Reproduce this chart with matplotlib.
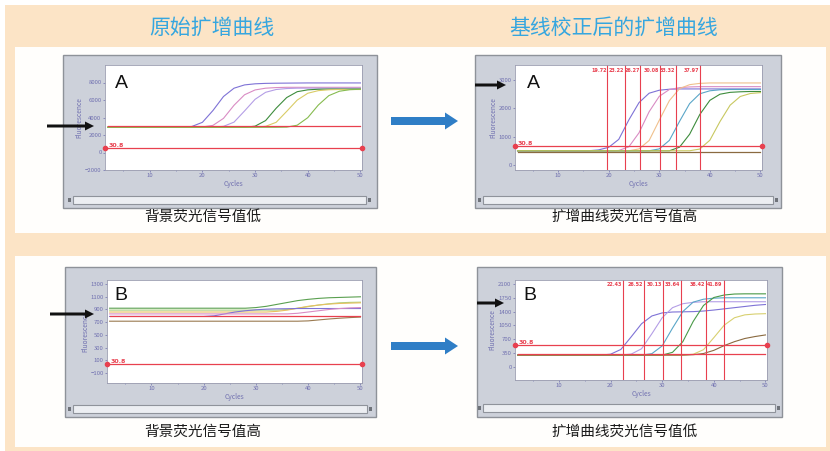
import matplotlib.pyplot as plt
from matplotlib.patches import Rectangle, FancyArrow

W, H = 830, 451

# 横轴：循环数（每 2 个循环取一个点）
CYCLES = list(range(2, 51, 2))

# ---- A 组：原始扩增曲线（背景荧光低） ----
RAW_A = {
    '#7e72d6': [2900, 2900, 2900, 2900, 2900, 2900, 2900, 2900, 2975, 3450, 4800, 6400, 7350,
                7725, 7850, 7900, 7920, 7930, 7940, 7950, 7950, 7950, 7950, 7950, 7950],
    '#d98cc4': [2900, 2900, 2900, 2900, 2900, 2900, 2900, 2900, 2900, 2920, 3100, 3900, 5400,
                6600, 7150, 7350, 7420, 7450, 7450, 7450, 7450, 7450, 7450, 7450, 7450],
    '#b49ee6': [2900, 2900, 2900, 2900, 2900, 2900, 2900, 2900, 2900, 2900, 2900, 2990, 3470,
                4750, 6080, 6880, 7200, 7310, 7350, 7350, 7350, 7350, 7350, 7350, 7350],
    '#3d8c3c': [2880, 2880, 2880, 2880, 2880, 2880, 2880, 2880, 2880, 2880, 2880, 2880, 2880,
                2880, 3010, 3650, 5060, 6280, 6950, 7160, 7230, 7250, 7250, 7250, 7250],
    '#d9cc66': [2900, 2900, 2900, 2900, 2900, 2900, 2900, 2900, 2900, 2900, 2900, 2900, 2900,
                2900, 2900, 2990, 3450, 4700, 5990, 6770, 7070, 7170, 7200, 7200, 7200],
    '#86bb4f': [2880, 2880, 2880, 2880, 2880, 2880, 2880, 2880, 2880, 2880, 2880, 2880, 2880,
                2880, 2880, 2880, 2880, 2900, 3120, 3980, 5420, 6500, 7000, 7180, 7230],
}
RAW_A_FLAT = 3000
RAW_A_THRESHOLD = 500

# ---- A 组：基线校正后 ----
CORR_A = {
    '#7e72d6': [500, 500, 500, 500, 500, 500, 500, 500, 530, 620, 900, 1585, 2190,
                2520, 2625, 2660, 2670, 2670, 2670, 2670, 2670, 2670, 2670, 2670, 2670],
    '#d98cc4': [500, 500, 500, 500, 500, 500, 500, 500, 500, 500, 510, 640, 1130,
                1870, 2410, 2650, 2715, 2740, 2750, 2750, 2750, 2750, 2750, 2750, 2750],
    '#f0c08c': [500, 500, 500, 500, 500, 500, 500, 500, 500, 500, 500, 500, 565,
                860, 1570, 2260, 2680, 2820, 2865, 2880, 2880, 2880, 2880, 2880, 2880],
    '#5aa6c8': [500, 500, 500, 500, 500, 500, 500, 500, 500, 500, 500, 500, 500,
                500, 565, 865, 1530, 2155, 2500, 2605, 2640, 2650, 2650, 2650, 2650],
    '#3d8c3c': [500, 500, 500, 500, 500, 500, 500, 500, 500, 500, 500, 500, 500,
                500, 500, 500, 625, 1080, 1770, 2270, 2485, 2550, 2570, 2580, 2580],
    '#c8c860': [500, 500, 500, 500, 500, 500, 500, 500, 500, 500, 500, 500, 500,
                500, 500, 500, 500, 500, 560, 870, 1525, 2100, 2405, 2510, 2540],
}
CORR_A_FLAT = 470
CORR_A_THRESHOLD = 650
CORR_A_CT = [19.72, 23.22, 26.27, 30.08, 33.32, 37.97]

# ---- B 组：原始扩增曲线（背景荧光高） ----
RAW_B = {
    '#5aa050': [920, 920, 920, 920, 920, 920, 920, 920, 920, 920, 920, 920, 920,
                920, 930, 950, 980, 1010, 1040, 1060, 1075, 1085, 1090, 1095, 1100],
    '#a8d080': [890, 890, 890, 890, 890, 890, 890, 890, 890, 890, 890, 890, 890,
                890, 890, 890, 890, 900, 920, 945, 970, 990, 1005, 1012, 1015],
    '#e8c060': [860, 860, 860, 860, 860, 860, 860, 860, 860, 860, 860, 860, 860,
                860, 860, 860, 870, 890, 920, 950, 970, 985, 995, 1000, 1005],
    '#7e72d6': [790, 790, 790, 790, 790, 790, 790, 790, 790, 790, 800, 830, 860,
                880, 895, 905, 910, 912, 915, 915, 915, 915, 915, 915, 915],
    '#d98cc4': [830, 830, 830, 830, 830, 830, 830, 830, 830, 830, 830, 830, 830,
                830, 830, 830, 830, 830, 840, 860, 880, 900, 915, 925, 930],
    '#9a7a50': [715, 715, 715, 715, 715, 715, 715, 715, 715, 715, 715, 715, 715,
                715, 715, 715, 715, 715, 715, 720, 735, 750, 762, 772, 780],
}
RAW_B_FLAT = 800
RAW_B_THRESHOLD = 40

# ---- B 组：基线校正后 ----
CORR_B = {
    '#7e72d6': [300, 300, 300, 300, 300, 300, 300, 300, 300, 322, 443, 762, 1092,
                1290, 1367, 1390, 1395, 1400, 1415, 1440, 1470, 1500, 1530, 1560, 1580],
    '#b49ee6': [300, 300, 300, 300, 300, 300, 300, 300, 300, 300, 300, 325, 460,
                840, 1245, 1500, 1600, 1635, 1650, 1650, 1650, 1650, 1650, 1650, 1650],
    '#5aa6c8': [300, 300, 300, 300, 300, 300, 300, 300, 300, 300, 300, 300, 300,
                336, 532, 982, 1402, 1640, 1714, 1740, 1750, 1750, 1750, 1750, 1750],
    '#4a9a48': [300, 300, 300, 300, 300, 300, 300, 300, 300, 300, 300, 300, 300,
                300, 300, 370, 640, 1150, 1555, 1757, 1820, 1845, 1850, 1850, 1850],
    '#d8d070': [300, 300, 300, 300, 300, 300, 300, 300, 300, 300, 300, 300, 300,
                300, 300, 300, 300, 321, 437, 741, 1056, 1245, 1318, 1340, 1348],
    '#8a6a40': [300, 300, 300, 300, 300, 300, 300, 300, 300, 300, 300, 300, 300,
                300, 300, 300, 300, 310, 340, 420, 540, 640, 720, 770, 810],
}
CORR_B_FLAT = 330
CORR_B_THRESHOLD = 556
CORR_B_CT = [22.43, 26.52, 30.13, 33.64, 38.42, 41.89]

THRESHOLD_LABEL = '30.8'

RED = '#e8404f'
AXIS_BLUE = '#7070b0'

plt.rcParams['font.family'] = ['Noto Sans CJK SC', 'DejaVu Sans']

fig = plt.figure(figsize=(W / 100, H / 100), dpi=100)

# 底层画布，按像素坐标布置背景和截图框
bg = fig.add_axes([0, 0, 1, 1], zorder=0)
bg.set_xlim(0, W)
bg.set_ylim(H, 0)
bg.axis('off')

bg.add_patch(Rectangle((5, 5), W - 5, H - 5, fc='#fce4c6', ec='none'))
bg.add_patch(Rectangle((15, 47), 811, 186, fc='#fffefc', ec='none'))
bg.add_patch(Rectangle((15, 256), 811, 191, fc='#fffefc', ec='none'))


def draw_frame(frame, scroll):
    x0, y0, x1, y1 = frame
    bg.add_patch(Rectangle((x0, y0), x1 - x0, y1 - y0, fc='#cdd1da', ec='#8e9299', lw=1.0))
    sx0, sy0, sx1, sy1 = scroll
    bg.add_patch(Rectangle((sx0, sy0), sx1 - sx0, sy1 - sy0, fc='#eceef2', ec='#8f939b', lw=0.8))
    for xx in (sx0 - 5, sx1 + 2):
        bg.add_patch(Rectangle((xx, sy0 + 2), 3, sy1 - sy0 - 4, fc='#6f737a', ec='none'))


def add_plot(rect):
    x0, y0, x1, y1 = rect
    ax = fig.add_axes([x0 / W, 1 - y1 / H, (x1 - x0) / W, (y1 - y0) / H], zorder=2)
    ax.set_facecolor('white')
    ax.set_xlim(1.5, 50.3)
    ax.set_xticks([10, 20, 30, 40, 50])
    ax.set_xticks(range(5, 50, 5), minor=True)
    ax.tick_params(axis='both', which='both', labelsize=4.3, colors=AXIS_BLUE,
                   length=1.5, width=0.5, pad=1)
    ax.tick_params(which='minor', length=1)
    for sp in ax.spines.values():
        sp.set_color('#9a9cb0')
        sp.set_linewidth(0.6)
    ax.set_xlabel('Cycles', fontsize=4.8, color=AXIS_BLUE, labelpad=1)
    ax.set_ylabel('Fluorescence', fontsize=4.8, color=AXIS_BLUE, labelpad=1)
    return ax


def draw_curves(ax, curves, flat, threshold, flat_color=RED):
    for color, vals in curves.items():
        ax.plot(CYCLES, vals, color=color, lw=0.8)
    ax.plot(CYCLES, [flat] * len(CYCLES), color=flat_color, lw=0.9)
    lo, hi = ax.get_xlim()
    ax.plot([lo, hi], [threshold, threshold], color=RED, lw=0.9, marker='o', ms=3,
            clip_on=False, zorder=5)
    ax.text(lo + 0.6, threshold, THRESHOLD_LABEL, color=RED, fontsize=4.5,
            fontweight='bold', va='bottom', ha='left', family='DejaVu Sans')


def draw_ct(ax, cts):
    for ct in cts:
        ax.axvline(ct, color=RED, lw=0.8)
        ax.text(ct - 0.15, 0.975, f'{ct:.2f}', transform=ax.get_xaxis_transform(),
                color=RED, fontsize=3.5, fontweight='bold', ha='right', va='top',
                family='DejaVu Sans')


# 截图框位置（像素）
FRAMES = [
    ((63, 55, 377, 208), (73, 196, 366, 204), (105, 65, 362, 170)),
    ((475, 55, 781, 208), (483, 196, 773, 204), (515, 65, 762, 170)),
    ((65, 267, 376, 417), (73, 405, 367, 413), (107, 280, 362, 383)),
    ((477, 267, 782, 417), (483, 404, 775, 412), (515, 280, 767, 380)),
]

axes = []
for frame, scroll, rect in FRAMES:
    draw_frame(frame, scroll)
    axes.append(add_plot(rect))

ax_tl, ax_tr, ax_bl, ax_br = axes

ax_tl.set_ylim(-2000, 10000)
ax_tl.set_yticks([-2000, 0, 2000, 4000, 6000, 8000])
draw_curves(ax_tl, RAW_A, RAW_A_FLAT, RAW_A_THRESHOLD)

ax_tr.set_ylim(-175, 3510)
ax_tr.set_yticks([0, 1000, 2000, 3000])
draw_curves(ax_tr, CORR_A, CORR_A_FLAT, CORR_A_THRESHOLD, flat_color='#8a6a40')
draw_ct(ax_tr, CORR_A_CT)

ax_bl.set_ylim(-260, 1365)
ax_bl.set_yticks([-100, 100, 300, 500, 700, 900, 1100, 1300])
draw_curves(ax_bl, RAW_B, RAW_B_FLAT, RAW_B_THRESHOLD)

ax_br.set_ylim(-330, 2200)
ax_br.set_yticks([0, 350, 700, 1050, 1400, 1750, 2100])
draw_curves(ax_br, CORR_B, CORR_B_FLAT, CORR_B_THRESHOLD)
draw_ct(ax_br, CORR_B_CT)

# 顶层：文字与箭头
fg = fig.add_axes([0, 0, 1, 1], zorder=5)
fg.set_xlim(0, W)
fg.set_ylim(H, 0)
fg.axis('off')
fg.patch.set_alpha(0)

fg.text(212, 28, '原始扩增曲线', fontsize=15, color='#36a6df', ha='center', va='center')
fg.text(614, 28, '基线校正后的扩增曲线', fontsize=15, color='#36a6df', ha='center', va='center')

fg.text(203, 217, '背景荧光信号值低', fontsize=10.5, color='#1a1a1a', ha='center', va='center')
fg.text(625, 217, '扩增曲线荧光信号值高', fontsize=10.5, color='#1a1a1a', ha='center', va='center')
fg.text(203, 432, '背景荧光信号值高', fontsize=10.5, color='#1a1a1a', ha='center', va='center')
fg.text(625, 432, '扩增曲线荧光信号值低', fontsize=10.5, color='#1a1a1a', ha='center', va='center')

for x, y, s in [(121, 84, 'A'), (533, 84, 'A'), (121, 296, 'B'), (530, 295, 'B')]:
    fg.text(x, y, s, fontsize=14, color='#111111', ha='center', va='center',
            family='Liberation Sans')

for x0, x1, y in [(47, 94, 126), (475, 506, 85), (50, 94, 314), (477, 504, 303)]:
    fg.add_patch(FancyArrow(x0, y, x1 - x0, 0, width=3, head_width=9, head_length=9,
                            length_includes_head=True, color='#111111', lw=0))

for y in (121, 346):
    fg.add_patch(FancyArrow(391, y, 67, 0, width=8, head_width=17, head_length=13,
                            length_includes_head=True, color='#2f7ec6', lw=0))

fig.savefig('out.png', dpi=100)
